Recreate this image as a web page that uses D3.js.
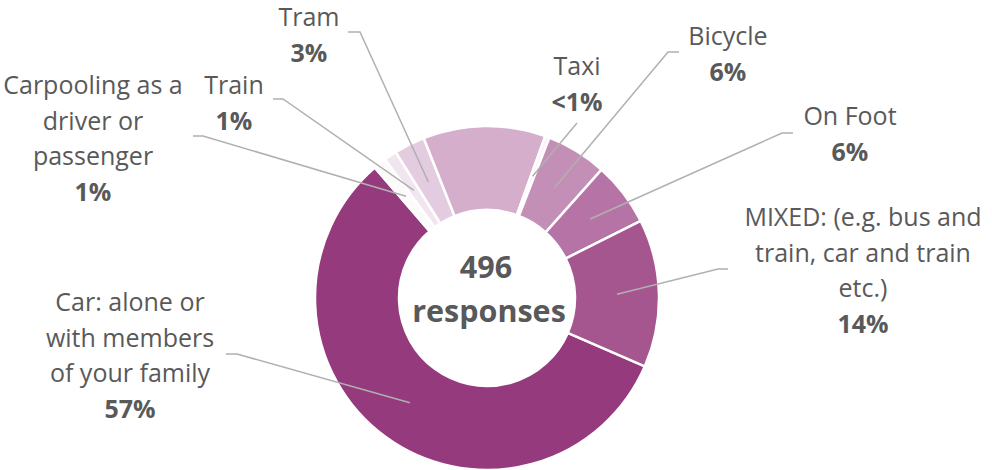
<!DOCTYPE html>
<html>
<head>
<meta charset="utf-8">
<script src="https://cdn.jsdelivr.net/npm/d3@7"></script>
<style>
  body { margin: 0; background: #ffffff; }
  svg text { font-family: "Open Sans", "DejaVu Sans", sans-serif; fill: #595959; }
</style>
</head>
<body>
<div id="chart"></div>
<script>
// Data (percent of 496 responses), clockwise from the Car slice
var categories = ["Car: alone or with members of your family", "Carpooling as a driver or passenger",
  "Train", "Tram", "(unlabelled)", "Taxi", "Bicycle", "On Foot",
  "MIXED: (e.g. bus and train, car and train etc.)"];
var values = [57.2, 1.2, 1.2, 2.9, 11.5, 0.4, 5.7, 6.0, 13.9];
var valueLabels = ["57%", "1%", "1%", "3%", null, "<1%", "6%", "6%", "14%"];
var labelLines = [
  ["Car: alone or", "with members", "of your family"],
  ["Carpooling as a", "driver or", "passenger"],
  ["Train"],
  ["Tram"],
  null,
  ["Taxi"],
  ["Bicycle"],
  ["On Foot"],
  ["MIXED: (e.g. bus and", "train, car and train", "etc.)"]
];
var totalResponses = 496;

// colours, dark to light
var colors = ["#963a7e", "#fdfafc", "#f1e5ef", "#e3cbe0", "#d4aecb", "#f8f0f6", "#c48fb7", "#b574a5", "#a5568f"];

// label placement: text centre x, first baseline, elbow of leader line [x1, x2, y]
var labelLayout = [
  { x: 130, y: 311, elbow: [237, 226, 354] },
  { x: 93, y: 94, elbow: [203, 193, 136] },
  { x: 234, y: 94, elbow: [283, 273, 99] },
  { x: 309, y: 26, elbow: [360, 348, 32] },
  null,
  { x: 577, y: 75, elbow: [577, 577, 123] },
  { x: 728, y: 45, elbow: [668, 679, 52] },
  { x: 850, y: 125, elbow: [782, 793, 133] },
  { x: 863, y: 226, elbow: [718, 728, 269] }
];

var svgWidth = 992;
var svgHeight = 470;
var cx = 487, cy = 298;
var outerR = 172, innerR = 88;
var lineHeight = 35.5;

var svg = d3.select("#chart")
  .append("svg")
  .attr("width", svgWidth)
  .attr("height", svgHeight);

var data = categories.map(function(c, i) {
  return { name: c, value: values[i], color: colors[i], pct: valueLabels[i], lines: labelLines[i], pos: labelLayout[i] };
});

var startDeg = 113.4;
var pie = d3.pie()
  .sort(null)
  .value(d => d.value)
  .startAngle(startDeg * Math.PI / 180)
  .endAngle((startDeg + 360) * Math.PI / 180);

var arc = d3.arc()
  .innerRadius(innerR)
  .outerRadius(outerR);

var donut = svg.append("g")
  .attr("transform", `translate(${cx}, ${cy})`);

var arcs = pie(data);

donut.selectAll("path")
  .data(arcs)
  .enter()
  .append("path")
  .attr("d", arc)
  .attr("fill", d => d.data.color)
  .attr("stroke", "#ffffff")
  .attr("stroke-width", 2.5);

// leader lines from slice centre to label
var labelled = arcs.filter(d => d.data.lines);

svg.selectAll("polyline.leader")
  .data(labelled)
  .enter()
  .append("polyline")
  .attr("class", "leader")
  .attr("fill", "none")
  .attr("stroke", "#b0b0b0")
  .attr("stroke-width", 1.5)
  .attr("points", function(d) {
    var c = arc.centroid(d);
    var e = d.data.pos.elbow;
    return [[cx + c[0], cy + c[1]], [e[0], e[2]], [e[1], e[2]]].map(p => p.join(",")).join(" ");
  });

// labels
var labels = svg.selectAll("text.label")
  .data(labelled)
  .enter()
  .append("text")
  .attr("class", "label")
  .attr("text-anchor", "middle")
  .attr("font-size", "25px");

labels.each(function(d) {
  var t = d3.select(this);
  var p = d.data.pos;
  d.data.lines.forEach(function(line, i) {
    t.append("tspan")
      .attr("x", p.x)
      .attr("y", p.y + i * lineHeight)
      .text(line);
  });
  t.append("tspan")
    .attr("x", p.x)
    .attr("y", p.y + d.data.lines.length * lineHeight)
    .attr("font-weight", "bold")
    .text(d.data.pct);
});

// centre text
svg.append("text")
  .attr("x", cx - 1)
  .attr("y", 278)
  .attr("text-anchor", "middle")
  .attr("font-size", "30.5px")
  .attr("font-weight", "bold")
  .text(totalResponses);

svg.append("text")
  .attr("x", cx + 2)
  .attr("y", 322)
  .attr("text-anchor", "middle")
  .attr("font-size", "30.5px")
  .attr("font-weight", "bold")
  .text("responses");
</script>
</body>
</html>
